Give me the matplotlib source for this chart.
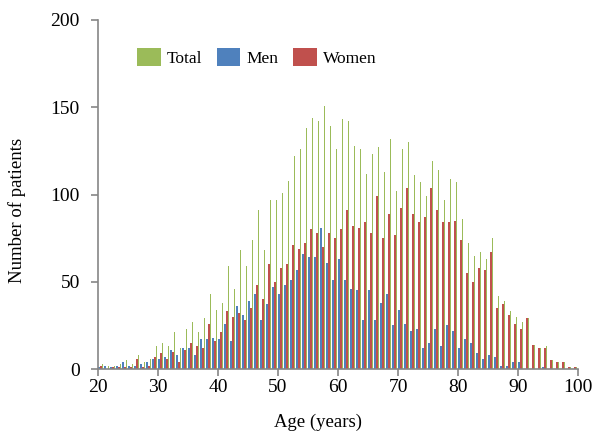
import numpy as np
import matplotlib
matplotlib.use("Agg")
import matplotlib.pyplot as plt

plt.rcParams['font.family'] = ['Liberation Serif', 'DejaVu Serif']

ages = list(range(20, 100))

men = [1, 2, 1, 2, 4, 2, 2, 3, 4, 6,
       6, 7, 11, 8, 12, 12, 8, 17, 17, 18,
       17, 26, 16, 36, 31, 39, 43, 28, 37, 47,
       43, 48, 51, 57, 66, 64, 64, 81, 61, 51,
       63, 51, 46, 45, 28, 45, 28, 38, 43, 25,
       34, 26, 22, 23, 12, 15, 23, 13, 25, 22,
       12, 17, 15, 9, 6, 8, 7, 2, 2, 4,
       4, 0, 0, 0, 1, 0, 0, 0, 0, 0]

women = [2, 0, 1, 1, 1, 1, 6, 1, 2, 7,
         9, 6, 10, 4, 11, 15, 13, 12, 26, 16,
         21, 33, 30, 32, 28, 35, 48, 40, 60, 50,
         58, 60, 71, 69, 72, 80, 78, 70, 78, 75,
         80, 91, 82, 81, 84, 78, 99, 75, 89, 77,
         92, 104, 89, 84, 87, 104, 91, 84, 84, 85,
         74, 55, 50, 58, 57, 67, 35, 37, 31, 26,
         23, 29, 14, 12, 12, 5, 4, 4, 1, 1]

total = [3, 2, 2, 3, 5, 3, 8, 4, 6, 13,
         15, 13, 21, 12, 23, 27, 21, 29, 43, 34,
         38, 59, 46, 68, 59, 74, 91, 68, 97, 97,
         101, 108, 122, 126, 138, 144, 142, 151, 139, 126,
         143, 142, 128, 126, 112, 123, 127, 113, 132, 102,
         126, 130, 111, 107, 99, 119, 114, 97, 109, 107,
         86, 72, 65, 67, 63, 75, 42, 39, 33, 30,
         27, 29, 14, 12, 13, 5, 4, 4, 1, 1]

x = np.array(ages)
w = 0.27

fig = plt.figure(figsize=(5.95, 4.32), dpi=100)
ax = fig.add_axes([98 / 595, 1 - 369 / 432, 480 / 595, 349 / 432])

ax.bar(x + 0.16, men, width=w, color='#4F81BD', label='Men', linewidth=0)
ax.bar(x + 0.46, women, width=w, color='#C0504D', label='Women', linewidth=0)
ax.bar(x + 0.76, total, width=w, color='#9BBB59', label='Total', linewidth=0)

ax.set_xlim(20, 100)
ax.set_ylim(0, 200)
ax.set_xticks(range(20, 101, 10))
ax.set_yticks(range(0, 201, 50))

for s in ['top', 'right']:
    ax.spines[s].set_visible(False)
for s in ['left', 'bottom']:
    ax.spines[s].set_color('#868686')
    ax.spines[s].set_linewidth(1.2)
ax.tick_params(axis='both', colors='#868686', labelcolor='black', labelsize=14,
               length=5, width=1.2, direction='out')
ax.tick_params(axis='x', pad=2)
ax.tick_params(axis='y', pad=8)

ax.set_xlabel('Age (years)', fontsize=13.5)
ax.set_ylabel('Number of patients', fontsize=13.5)
ax.xaxis.set_label_coords(0.458, -0.127)
ax.yaxis.set_label_coords(-0.15, 0.453)

handles, labels = ax.get_legend_handles_labels()
order = [2, 0, 1]
ax.legend([handles[i] for i in order], [labels[i] for i in order],
          loc='upper left', bbox_to_anchor=(125 / 595, 1 - 36 / 432),
          bbox_transform=fig.transFigure, ncol=3, frameon=False, fontsize=12.5,
          handlelength=1.35, handleheight=1.2, handletextpad=0.35,
          columnspacing=0.85, borderpad=0.2)

fig.savefig('out.png', dpi=100)
